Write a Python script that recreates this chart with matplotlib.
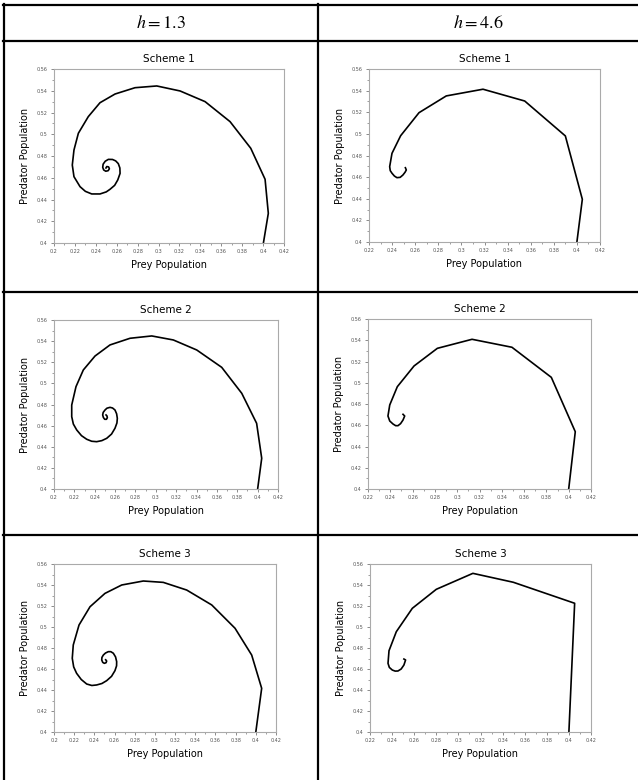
import matplotlib.pyplot as plt
from matplotlib.lines import Line2D
from matplotlib.ticker import MultipleLocator, FormatStrFormatter

# ---------------- data ----------------
headers = ["$h = 1.3$", "$h = 4.6$"]
titles = ["Scheme 1", "Scheme 2", "Scheme 3"]

# h = 1.3
s1_a_x = [0.4003, 0.4050, 0.4019, 0.3882, 0.3684, 0.3445, 0.3206, 0.2983, 0.2775, 0.2584,
          0.2440, 0.2328, 0.2233, 0.2191, 0.2175, 0.2191, 0.2249, 0.2300, 0.2361, 0.2440,
          0.2500, 0.2536, 0.2580, 0.2610, 0.2632, 0.2630, 0.2615, 0.2590, 0.2560, 0.2520,
          0.2490, 0.2470, 0.2466, 0.2475, 0.2495, 0.2518, 0.2530, 0.2522, 0.2505, 0.2497]
s1_a_y = [0.400, 0.4273, 0.4586, 0.4871, 0.5116, 0.5300, 0.5398, 0.5444, 0.5428, 0.5370,
          0.5290, 0.5162, 0.5009, 0.4855, 0.4717, 0.4610, 0.4518, 0.4475, 0.4451, 0.4451,
          0.4470, 0.4494, 0.4530, 0.4580, 0.4640, 0.4690, 0.4730, 0.4755, 0.4768, 0.4769,
          0.4752, 0.4725, 0.4696, 0.4672, 0.4660, 0.4665, 0.4683, 0.4700, 0.4703, 0.4690]

s2_a_x = [0.400, 0.404, 0.399, 0.3844, 0.3647, 0.3402, 0.3172, 0.2960, 0.2747, 0.2550,
          0.2403, 0.2288, 0.2216, 0.2174, 0.2174, 0.2190, 0.2223, 0.2270, 0.2321, 0.2370,
          0.2419, 0.2470, 0.2518, 0.2565, 0.2599, 0.2618, 0.2622, 0.2615, 0.2599, 0.2575,
          0.2550, 0.2520, 0.2501, 0.2483, 0.2478, 0.2485, 0.2498, 0.2515, 0.2524, 0.2520,
          0.2511]
s2_a_y = [0.400, 0.4291, 0.4622, 0.4906, 0.5152, 0.5316, 0.5411, 0.5449, 0.5427, 0.5364,
          0.5259, 0.5127, 0.4969, 0.4795, 0.4685, 0.4615, 0.4559, 0.4505, 0.4471, 0.4452,
          0.4448, 0.4458, 0.4480, 0.4520, 0.4575, 0.4625, 0.4669, 0.4712, 0.4748, 0.4767,
          0.4773, 0.4765, 0.4748, 0.4725, 0.4701, 0.4677, 0.4660, 0.4660, 0.4675, 0.4692,
          0.4701]

s3_a_x = [0.400, 0.4058, 0.3959, 0.3794, 0.3563, 0.3315, 0.3083, 0.2885, 0.2671, 0.2505,
          0.2357, 0.2248, 0.2191, 0.2181, 0.2195, 0.2224, 0.2270, 0.2324, 0.2375, 0.2423,
          0.2475, 0.2522, 0.2570, 0.2604, 0.2620, 0.2621, 0.2610, 0.2588, 0.2563, 0.2538,
          0.2510, 0.2489, 0.2475, 0.2473, 0.2483, 0.2499, 0.2516, 0.2522, 0.2512]
s3_a_y = [0.400, 0.4416, 0.4733, 0.4988, 0.5210, 0.5352, 0.5425, 0.5438, 0.5400, 0.5320,
          0.5193, 0.5019, 0.4829, 0.4702, 0.4620, 0.4559, 0.4500, 0.4457, 0.4443, 0.4448,
          0.4462, 0.4489, 0.4530, 0.4584, 0.4630, 0.4670, 0.4715, 0.4750, 0.4765, 0.4765,
          0.4752, 0.4733, 0.4710, 0.4686, 0.4663, 0.4654, 0.4660, 0.4676, 0.4688]

# h = 4.6
s1_b_x = [0.400, 0.4047, 0.3900, 0.3548, 0.3187, 0.2869, 0.2633, 0.2474, 0.2399, 0.2379,
          0.2384, 0.2399, 0.2420, 0.2442, 0.2470, 0.2494, 0.2512, 0.2523, 0.2515]
s1_b_y = [0.400, 0.4395, 0.4981, 0.5304, 0.5413, 0.5351, 0.5196, 0.4983, 0.4820, 0.4697,
          0.4660, 0.4636, 0.4610, 0.4595, 0.4598, 0.4620, 0.4645, 0.4666, 0.4687]

s2_b_x = [0.400, 0.4059, 0.3844, 0.3491, 0.3133, 0.2822, 0.2613, 0.2463, 0.2395, 0.2379,
          0.2395, 0.2424, 0.2448, 0.2469, 0.2492, 0.2514, 0.2529, 0.2514]
s2_b_y = [0.400, 0.4539, 0.5051, 0.5334, 0.5409, 0.5324, 0.5158, 0.4963, 0.4791, 0.4687,
          0.4640, 0.4612, 0.4596, 0.4596, 0.4615, 0.4649, 0.4687, 0.4703]

s3_b_x = [0.400, 0.4052, 0.3497, 0.3131, 0.2800, 0.2583, 0.2438, 0.2372, 0.2363, 0.2375,
          0.2402, 0.2428, 0.2453, 0.2482, 0.2507, 0.2522, 0.2507]
s3_b_y = [0.400, 0.5226, 0.5426, 0.5511, 0.5359, 0.5178, 0.4955, 0.4774, 0.4654, 0.4615,
          0.4590, 0.4580, 0.4581, 0.4600, 0.4638, 0.4686, 0.4695]

xlim_a = (0.2, 0.42)
xlim_b = (0.22, 0.42)
ylim = (0.4, 0.56)

# ---------------- figure ----------------
W, H = 638, 780
plt.rcParams['mathtext.fontset'] = 'stix'
fig = plt.figure(figsize=(W / 100, H / 100), dpi=100)


def px_rect(x0, y0, x1, y1):
    return [x0 / W, 1 - y1 / H, (x1 - x0) / W, (y1 - y0) / H]


def fig_line(x0, y0, x1, y1):
    fig.add_artist(Line2D([x0 / W, x1 / W], [1 - y0 / H, 1 - y1 / H],
                          transform=fig.transFigure, color='black', lw=1.6))


# table grid
fig_line(3, 5, W, 5)
fig_line(3, 41, W, 41)
fig_line(3, 292, W, 292)
fig_line(3, 535, W, 535)
fig_line(4, 4, 4, H)
fig_line(318, 4, 318, H)

fig.text(161 / W, 1 - 23 / H, headers[0], ha='center', va='center', fontsize=13)
fig.text(478 / W, 1 - 23 / H, headers[1], ha='center', va='center', fontsize=13)

panels = [
    (px_rect(54, 69, 284, 243), s1_a_x, s1_a_y, xlim_a, titles[0]),
    (px_rect(369, 69, 600, 242), s1_b_x, s1_b_y, xlim_b, titles[0]),
    (px_rect(54, 320, 278, 489), s2_a_x, s2_a_y, xlim_a, titles[1]),
    (px_rect(368, 319, 591, 489), s2_b_x, s2_b_y, xlim_b, titles[1]),
    (px_rect(54, 564, 276, 732), s3_a_x, s3_a_y, xlim_a, titles[2]),
    (px_rect(370, 564, 591, 732), s3_b_x, s3_b_y, xlim_b, titles[2]),
]

for rect, xs, ys, xl, title in panels:
    ax = fig.add_axes(rect)
    ax.plot(xs, ys, color='black', lw=1.2)
    ax.set_xlim(xl)
    ax.set_ylim(ylim)
    ax.xaxis.set_major_locator(MultipleLocator(0.02))
    ax.xaxis.set_minor_locator(MultipleLocator(0.01))
    ax.yaxis.set_major_locator(MultipleLocator(0.02))
    ax.yaxis.set_minor_locator(MultipleLocator(0.01))
    ax.xaxis.set_major_formatter(FormatStrFormatter('%g'))
    ax.yaxis.set_major_formatter(FormatStrFormatter('%g'))
    ax.tick_params(which='major', direction='out', length=2.5, width=0.6,
                   labelsize=3.5, labelcolor='#555555', color='#777777', pad=2)
    ax.tick_params(which='minor', direction='out', length=1.3, width=0.5, color='#777777')
    for sp in ax.spines.values():
        sp.set_color('#aaaaaa')
        sp.set_linewidth(0.8)
    ax.set_title(title, fontsize=7.5, pad=5)
    ax.set_xlabel('Prey Population', fontsize=7, labelpad=4)
    ax.set_ylabel('Predator Population', fontsize=7, labelpad=5)

fig.savefig('out.png', dpi=100)
